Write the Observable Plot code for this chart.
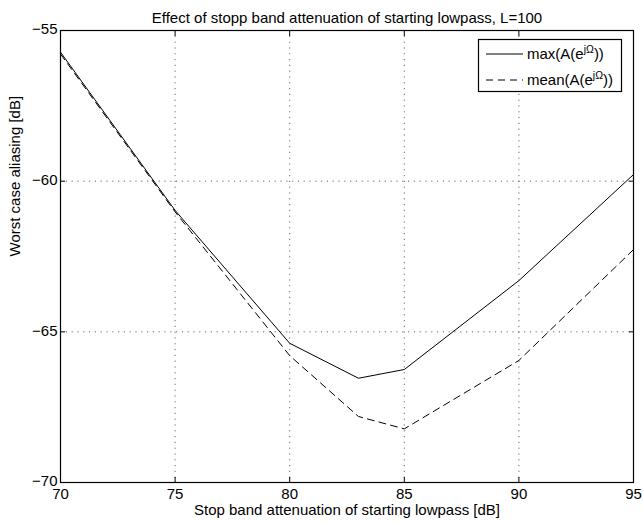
<!DOCTYPE html>
<html>
<head>
<meta charset="utf-8">
<script src="https://cdn.jsdelivr.net/npm/d3@7"></script>
<script src="https://cdn.jsdelivr.net/npm/@observablehq/plot@0.6"></script>
<style>
  html, body { margin: 0; padding: 0; background: #fff; }
  #chart { width: 643px; height: 522px; }
</style>
</head>
<body>
<div id="chart"></div>
<script>
const titleText = "Effect of stopp band attenuation of starting lowpass, L=100";
const xLabel = "Stop band attenuation of starting lowpass [dB]";
const yLabel = "Worst case aliasing [dB]";
const xTicks = [70, 75, 80, 85, 90, 95];
const yTicks = [-70, -65, -60, -55];
const attenuation = [70, 75, 80, 83, 85, 90, 95];
const maxAlias  = [-55.72, -60.97, -65.38, -66.54, -66.25, -63.30, -59.78];
const meanAlias = [-55.78, -61.02, -65.79, -67.81, -68.22, -65.95, -62.27];
const legendNames = ["max", "mean"];
const legendDash = [null, "7,5"];

const maxData = attenuation.map((x, i) => ({x, y: maxAlias[i]}));
const meanData = attenuation.map((x, i) => ({x, y: meanAlias[i]}));

const font = "'Liberation Sans', Arial, Helvetica, sans-serif";
const fs = 15;
const grid = {stroke: "#444", strokeOpacity: 0.8, strokeDasharray: "1.2,4.6", strokeWidth: 1};

const chart = Plot.plot({
  width: 643,
  height: 522,
  marginLeft: 60,
  marginRight: 10,
  marginTop: 30,
  marginBottom: 40,
  style: {fontFamily: font, fontSize: fs + "px", background: "#fff", color: "#000"},
  x: {domain: [70, 95]},
  y: {domain: [-70, -55]},
  marks: [
    Plot.gridX(xTicks, grid),
    Plot.gridY(yTicks, grid),
    Plot.axisX(xTicks, {anchor: "bottom", tickSize: 0, tickPadding: 6, label: null, fontSize: fs}),
    Plot.axisY(yTicks, {anchor: "left", tickSize: 0, tickPadding: 3, label: null, fontSize: fs, dy: -1}),
    Plot.axisX(xTicks, {anchor: "bottom", tickSize: -5, text: null, label: null}),
    Plot.axisX(xTicks, {anchor: "top", tickSize: -5, text: null, label: null}),
    Plot.axisY(yTicks, {anchor: "left", tickSize: -5, text: null, label: null}),
    Plot.axisY(yTicks, {anchor: "right", tickSize: -5, text: null, label: null}),
    Plot.line(maxData, {x: "x", y: "y", stroke: "#000", strokeWidth: 1}),
    Plot.line(meanData, {x: "x", y: "y", stroke: "#000", strokeWidth: 1, strokeDasharray: "7,5"}),
    Plot.frame({stroke: "#000", strokeWidth: 1.2}),
    Plot.text([titleText], {frameAnchor: "top", dy: -18, fontSize: fs}),
    Plot.text([xLabel], {frameAnchor: "bottom", dy: 32, fontSize: fs}),
    Plot.text([yLabel], {frameAnchor: "left", dx: -45, rotate: -90, fontSize: fs})
  ]
});
document.getElementById("chart").appendChild(chart);

// Legend (inside plot, top-right)
const svg = d3.select(chart);
const lg = svg.append("g").attr("font-family", font).attr("font-size", fs).attr("text-anchor", "start");
lg.append("rect").attr("x", 478.5).attr("y", 39.5).attr("width", 143).attr("height", 52)
  .attr("fill", "#fff").attr("stroke", "#000").attr("stroke-width", 1.2);
legendNames.forEach((name, i) => {
  const cy = 54 + i * 26;
  lg.append("line").attr("x1", 486).attr("x2", 523).attr("y1", cy).attr("y2", cy)
    .attr("stroke", "#000").attr("stroke-width", 1)
    .attr("stroke-dasharray", legendDash[i]);
  const t = lg.append("text").attr("x", 527).attr("y", cy + 5).attr("text-anchor", "start");
  t.append("tspan").text(name + "(A(e");
  t.append("tspan").attr("dy", -6).attr("font-size", 10.5).text("jΩ");
  t.append("tspan").attr("dy", 6).text("))");
});
</script>
</body>
</html>
